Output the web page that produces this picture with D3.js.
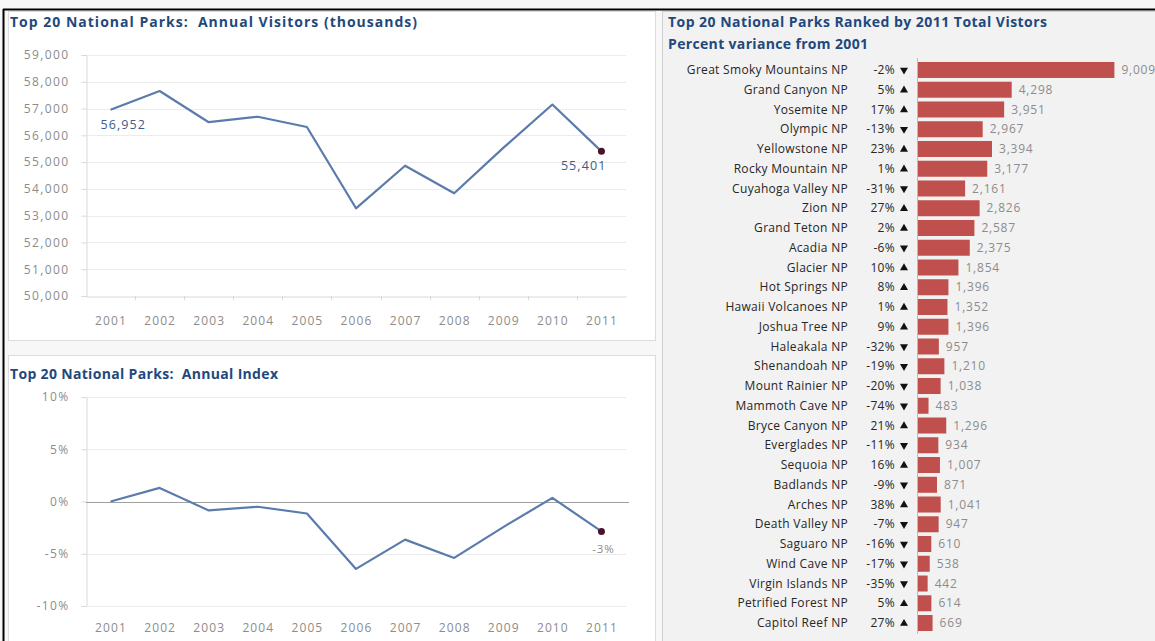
<!DOCTYPE html>
<html>
<head>
<meta charset="utf-8">
<script src="https://cdn.jsdelivr.net/npm/d3@7"></script>
<style>
  body { margin: 0; background: #ffffff; }
  svg text { font-family: "Open Sans", Lato, sans-serif; }
  .title { font-weight: 700; fill: #1f497d; font-size: 14px; }
  .tick-label { fill: #8c8c8c; font-size: 12px; letter-spacing: 1.4px; }
  .year-label { fill: #8c8c8c; font-size: 12px; letter-spacing: 1.1px; }
  .park { fill: #262626; font-size: 12px; letter-spacing: 0.3px; }
  .val { fill: #8c8c8c; font-size: 12px; letter-spacing: 0.8px; }
</style>
</head>
<body>
<div class="svg"></div>
<script>
const years = [2001, 2002, 2003, 2004, 2005, 2006, 2007, 2008, 2009, 2010, 2011];
const visitors = [56952, 57655, 56490, 56695, 56310, 53275, 54865, 53835, 55530, 57150, 55401];
const annualIndex = [0, 1.3, -0.85, -0.5, -1.15, -6.45, -3.65, -5.4, -2.45, 0.35, -2.86];
const visitorTicks = [50000, 51000, 52000, 53000, 54000, 55000, 56000, 57000, 58000, 59000];
const indexTicks = [-10, -5, 0, 5, 10];

const parks = ["Great Smoky Mountains NP", "Grand Canyon NP", "Yosemite NP", "Olympic NP",
  "Yellowstone NP", "Rocky Mountain NP", "Cuyahoga Valley NP", "Zion NP", "Grand Teton NP",
  "Acadia NP", "Glacier NP", "Hot Springs NP", "Hawaii Volcanoes NP", "Joshua Tree NP",
  "Haleakala NP", "Shenandoah NP", "Mount Rainier NP", "Mammoth Cave NP", "Bryce Canyon NP",
  "Everglades NP", "Sequoia NP", "Badlands NP", "Arches NP", "Death Valley NP", "Saguaro NP",
  "Wind Cave NP", "Virgin Islands NP", "Petrified Forest NP", "Capitol Reef NP"];
const pctChange = [-2, 5, 17, -13, 23, 1, -31, 27, 2, -6, 10, 8, 1, 9, -32, -19, -20, -74, 21,
  -11, 16, -9, 38, -7, -16, -17, -35, 5, 27];
const visitors2011 = [9009, 4298, 3951, 2967, 3394, 3177, 2161, 2826, 2587, 2375, 1854, 1396,
  1352, 1396, 957, 1210, 1038, 483, 1296, 934, 1007, 871, 1041, 947, 610, 538, 442, 614, 669];

const cfg = {
  width: 1155,
  height: 641,
  lineColor: "#5a7bac",
  markerColor: "#4a1426",
  barColor: "#c0504d",
  gridColor: "#ececec",
  axisColor: "#d9d9d9",
};

const svg = d3.select(".svg")
  .append("svg")
  .attr("width", cfg.width)
  .attr("height", cfg.height);

drawFrame(svg);
drawVisitorsChart(svg);
drawIndexChart(svg);
drawParksChart(svg);

function drawFrame(svg) {
  svg.append("rect").attr("x", 0).attr("y", 0)
    .attr("width", cfg.width).attr("height", cfg.height).attr("fill", "#f7f7f7");
  // panels
  svg.append("rect").attr("x", 8.5).attr("y", 11.5).attr("width", 647).attr("height", 329)
    .attr("fill", "#ffffff").attr("stroke", "#dcdcdc");
  svg.append("rect").attr("x", 8.5).attr("y", 355.5).attr("width", 647).attr("height", 290)
    .attr("fill", "#ffffff").attr("stroke", "#dcdcdc");
  svg.append("rect").attr("x", 662.5).attr("y", 11.5).attr("width", 497).attr("height", 635)
    .attr("fill", "#f2f2f2").attr("stroke", "#d0d0d0");
  // black outer border
  svg.append("line").attr("x1", 3).attr("x2", cfg.width).attr("y1", 9.5).attr("y2", 9.5)
    .attr("stroke", "#000").attr("stroke-width", 2);
  svg.append("line").attr("x1", 3.5).attr("x2", 3.5).attr("y1", 9).attr("y2", cfg.height)
    .attr("stroke", "#000").attr("stroke-width", 2);
}

function addTitle(g, x, y, text, len) {
  g.append("text").attr("class", "title").attr("x", x).attr("y", y)
    .attr("xml:space", "preserve")
    .attr("textLength", len).attr("lengthAdjust", "spacing")
    .text(text);
}

function xYears() {
  return d3.scalePoint().domain(years).range([86, 626]).padding(0.5);
}

function drawVisitorsChart(svg) {
  const x = xYears();
  const y = d3.scaleLinear().domain([50000, 59000]).range([296, 55]);
  const g = svg.append("g");

  addTitle(g, 10, 27, "Top 20 National Parks:  Annual Visitors (thousands)", 407);

  g.selectAll(".grid").data(visitorTicks.slice(1)).join("line")
    .attr("x1", 86).attr("x2", 626)
    .attr("y1", (d) => Math.round(y(d)) + 0.5).attr("y2", (d) => Math.round(y(d)) + 0.5)
    .attr("stroke", cfg.gridColor);

  const yAxis = g.append("g").attr("transform", "translate(86.5,0)")
    .call(d3.axisLeft(y).tickValues(visitorTicks).tickSize(5).tickPadding(12)
      .tickFormat(d3.format(",")));
  styleAxis(yAxis, "tick-label");

  const xAxis = g.append("g").attr("transform", `translate(0,${Math.round(y(50000)) + 0.5})`)
    .call(d3.axisBottom(x).tickSize(0).tickPadding(20));
  styleAxis(xAxis, "year-label");
  // category boundary ticks
  const step = x.step();
  g.selectAll(".xt").data(years.slice(1)).join("line")
    .attr("x1", (d) => Math.round(x(d) - step / 2) + 0.5)
    .attr("x2", (d) => Math.round(x(d) - step / 2) + 0.5)
    .attr("y1", y(50000)).attr("y2", y(50000) + 4)
    .attr("stroke", cfg.axisColor);

  const line = d3.line().x((d, i) => x(years[i])).y((d) => y(d));
  g.append("path").datum(visitors).attr("d", line)
    .attr("fill", "none").attr("stroke", cfg.lineColor).attr("stroke-width", 2.2)
    .attr("stroke-linejoin", "round");

  const last = visitors.length - 1;
  g.append("circle").attr("cx", x(years[last])).attr("cy", y(visitors[last])).attr("r", 3.5)
    .attr("fill", cfg.markerColor);

  g.append("text").attr("x", x(years[0]) - 10).attr("y", y(visitors[0]) + 19)
    .attr("fill", "#3c5c88").style("font-size", "12.5px").style("letter-spacing", "1.1px")
    .text(d3.format(",")(visitors[0]));
  g.append("text").attr("x", x(years[last]) + 5).attr("y", y(visitors[last]) + 19)
    .attr("text-anchor", "end").attr("fill", "#3c5c88")
    .style("font-size", "12.5px").style("letter-spacing", "1.1px")
    .text(d3.format(",")(visitors[last]));
}

function drawIndexChart(svg) {
  const x = xYears();
  const y = d3.scaleLinear().domain([-10, 10]).range([606, 397]);
  const g = svg.append("g");

  addTitle(g, 10, 379, "Top 20 National Parks:  Annual Index", 268);

  g.selectAll(".grid").data(indexTicks.filter((d) => d !== 0)).join("line")
    .attr("x1", 86).attr("x2", 626)
    .attr("y1", (d) => Math.round(y(d)) + 0.5).attr("y2", (d) => Math.round(y(d)) + 0.5)
    .attr("stroke", cfg.gridColor);

  const yAxis = g.append("g").attr("transform", "translate(86.5,0)")
    .call(d3.axisLeft(y).tickValues(indexTicks).tickSize(5).tickPadding(12)
      .tickFormat((d) => d + "%"));
  styleAxis(yAxis, "tick-label");

  g.append("line").attr("x1", 86).attr("x2", 629)
    .attr("y1", Math.round(y(0)) + 0.5).attr("y2", Math.round(y(0)) + 0.5)
    .attr("stroke", "#a0a0a0").attr("stroke-width", 1.2);

  const xAxis = g.append("g").attr("transform", `translate(0,${Math.round(y(-10)) + 0.5})`)
    .call(d3.axisBottom(x).tickSize(0).tickPadding(17));
  styleAxis(xAxis, "year-label");
  xAxis.select(".domain").remove();

  const line = d3.line().x((d, i) => x(years[i])).y((d) => y(d));
  g.append("path").datum(annualIndex).attr("d", line)
    .attr("fill", "none").attr("stroke", cfg.lineColor).attr("stroke-width", 2.2)
    .attr("stroke-linejoin", "round");

  const last = annualIndex.length - 1;
  g.append("circle").attr("cx", x(years[last])).attr("cy", y(annualIndex[last])).attr("r", 3.5)
    .attr("fill", cfg.markerColor);
  g.append("text").attr("x", x(years[last]) + 13).attr("y", y(annualIndex[last]) + 22)
    .attr("text-anchor", "end").attr("fill", "#8c8c8c")
    .style("font-size", "11.5px").style("letter-spacing", "0.8px")
    .text(Math.round(annualIndex[last]) + "%");
}

function drawParksChart(svg) {
  const y = d3.scaleBand().domain(parks).range([60, 633])
    .paddingInner(0.19).paddingOuter(0.1);
  const x = d3.scaleLinear().domain([0, 10000]).range([918, 1136]);
  const g = svg.append("g");

  addTitle(g, 668, 27, "Top 20 National Parks Ranked by 2011 Total Vistors", 379);
  addTitle(g, 668, 49, "Percent variance from 2001", 200);

  const rows = g.selectAll(".row").data(parks).join("g")
    .attr("transform", (d) => `translate(0,${y(d) + y.bandwidth() / 2})`);

  rows.append("text").attr("class", "park").attr("x", 848).attr("dy", "0.35em")
    .attr("text-anchor", "end").text((d) => d);
  rows.append("text").attr("class", "park").attr("x", 895).attr("dy", "0.35em")
    .attr("text-anchor", "end").text((d, i) => pctChange[i] + "%");
  rows.append("path")
    .attr("d", d3.symbol().type(d3.symbolTriangle).size(28))
    .attr("transform", (d, i) => `translate(904,${pctChange[i] < 0 ? 0 : 0.5}) rotate(${pctChange[i] < 0 ? 180 : 0})`)
    .attr("fill", "#111");

  rows.append("rect").attr("x", x(0)).attr("y", -y.bandwidth() / 2)
    .attr("width", (d, i) => x(visitors2011[i]) - x(0)).attr("height", y.bandwidth())
    .attr("fill", cfg.barColor);
  rows.append("text").attr("class", "val").attr("x", (d, i) => x(visitors2011[i]) + 7)
    .attr("dy", "0.35em").text((d, i) => d3.format(",")(visitors2011[i]));

  g.append("line").attr("x1", 917.5).attr("x2", 917.5).attr("y1", 58).attr("y2", 634)
    .attr("stroke", "#a8c4c4");
}

function styleAxis(axis, cls) {
  axis.select(".domain").attr("stroke", cfg.axisColor);
  axis.selectAll(".tick line").attr("stroke", cfg.axisColor);
  axis.selectAll(".tick text").attr("class", cls).attr("font-family", null)
    .attr("font-size", null);
}
</script>
</body>
</html>
